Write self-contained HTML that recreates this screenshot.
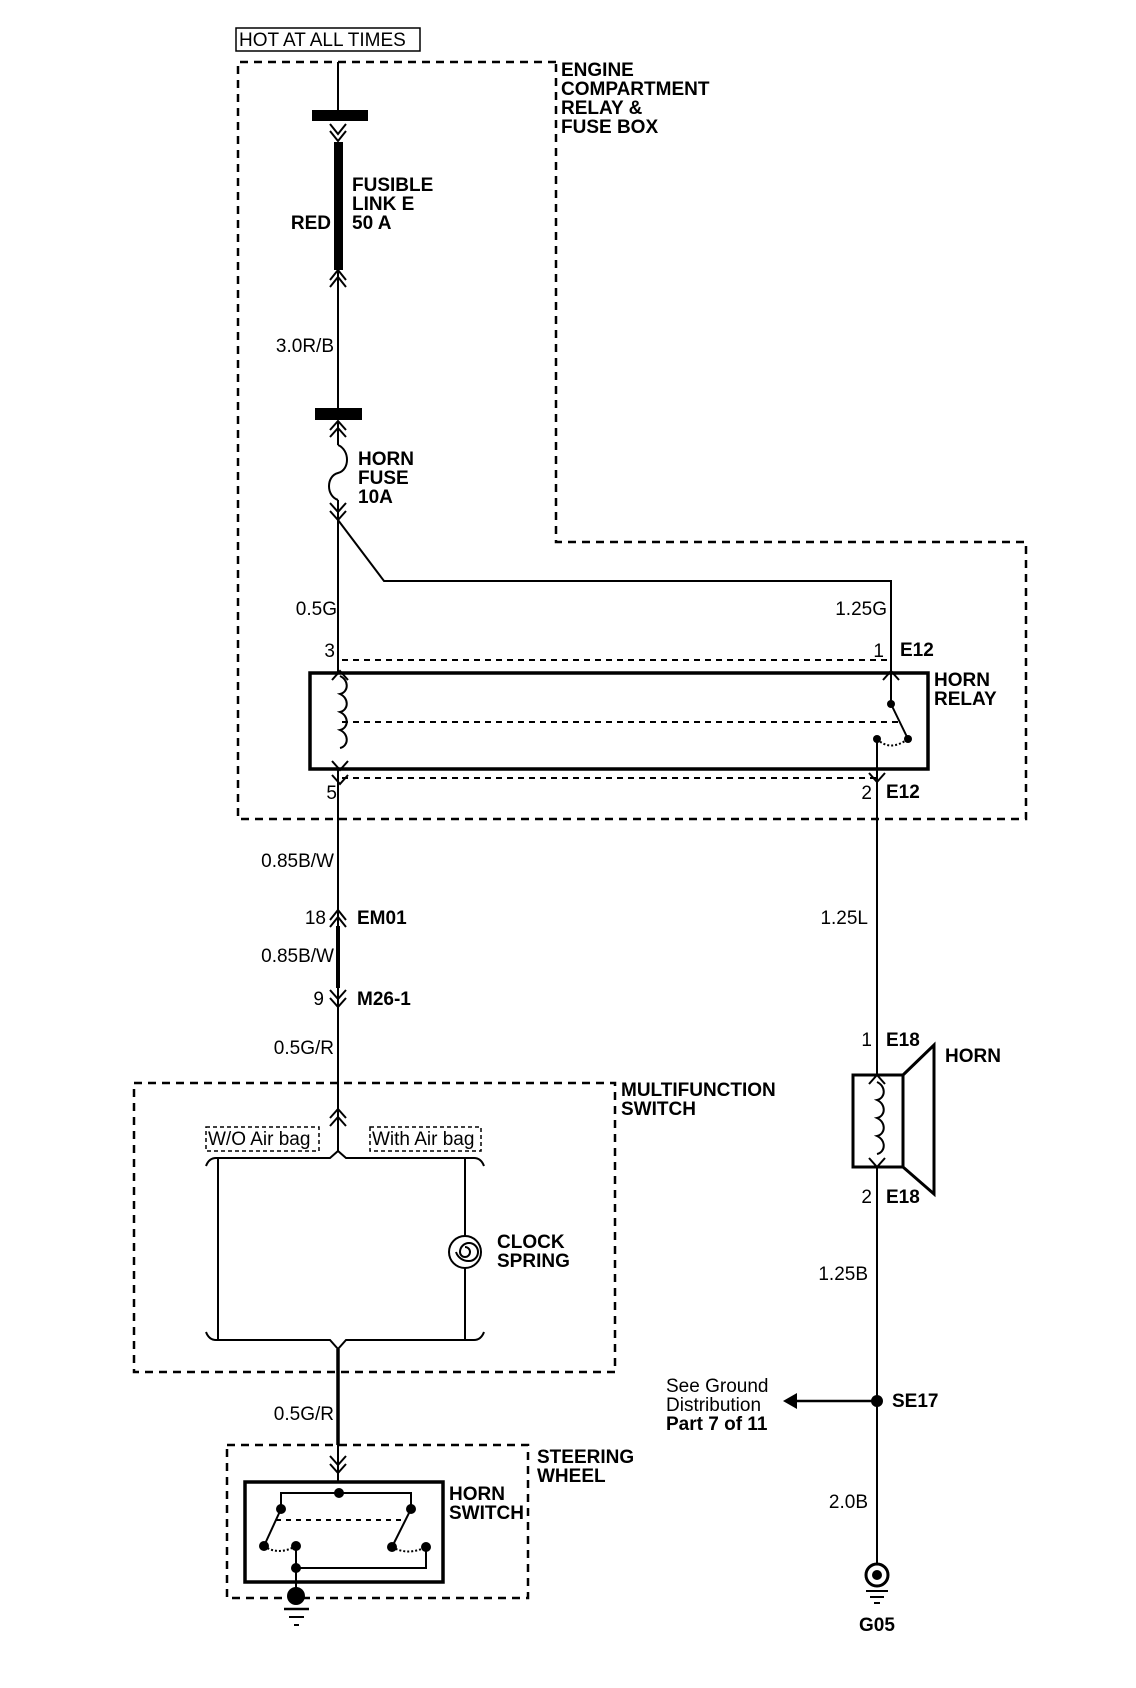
<!DOCTYPE html>
<html><head><meta charset="utf-8"><style>
html,body{margin:0;padding:0;background:#fff;}
svg{display:block;}
text{font-family:"Liberation Sans",sans-serif;font-size:19px;fill:#000;}
.b{font-weight:bold;}
</style></head><body>
<svg width="1136" height="1688" viewBox="0 0 1136 1688" xmlns="http://www.w3.org/2000/svg">
<g fill="none" stroke="#000" stroke-width="2">
<rect x="236" y="28" width="184" height="23" stroke-width="1.5"/>
<polyline points="556,62 238,62 238,819 1026,819 1026,542 556,542 556,62" stroke-dasharray="8,6" stroke-width="2.5"/>
<line x1="338" y1="62" x2="338" y2="110"/>
<line x1="338" y1="270" x2="338" y2="408"/>
<line x1="338" y1="421" x2="338" y2="445"/>
<line x1="338" y1="500" x2="338" y2="674"/>
<path d="M338,445 C350,450 350,470 338,473 C326,476 326,496 338,500"/>
<polyline points="330,124 338,134 346,124"/><polyline points="330,131 338,141 346,131"/>
<polyline points="330,280 338,270 346,280"/><polyline points="330,287 338,277 346,287"/>
<polyline points="330,430 338,421 346,430"/><polyline points="330,437 338,428 346,437"/>
<polyline points="330,503 338,512 346,503"/><polyline points="330,511 338,520 346,511"/>
<polyline points="338,520 384,581 891,581 891,674"/>
<line x1="342" y1="660" x2="891" y2="660" stroke-dasharray="6,5"/>
<line x1="342" y1="722" x2="900" y2="722" stroke-dasharray="6,5"/>
<line x1="342" y1="778" x2="877" y2="778" stroke-dasharray="6,5"/>
<path d="M340,676 c9,4 9,16 0,18 c9,4 9,16 0,18 c9,4 9,16 0,18 c9,4 9,16 0,18"/>
<polyline points="332,680 340,671 348,680"/>
<polyline points="332,761 340,770 348,761"/>
<polyline points="332,775 340,784 348,775"/>
<polyline points="883,680 891,671 899,680"/>
<polyline points="869,773 877,782 885,773"/>
<line x1="891" y1="674" x2="891" y2="704"/>
<line x1="891" y1="704" x2="908" y2="739"/>
<path d="M877,739 Q890,752 908,739" stroke-dasharray="2,2"/>
<line x1="877" y1="739" x2="877" y2="1075"/>
<line x1="338" y1="768" x2="338" y2="926"/>
<line x1="338" y1="926" x2="338" y2="988" stroke-width="4"/>
<line x1="338" y1="988" x2="338" y2="1151"/>
<polyline points="330,920 338,910 346,920"/><polyline points="330,927 338,917 346,927"/>
<polyline points="330,990 338,999 346,990"/><polyline points="330,998 338,1007 346,998"/>
<rect x="134" y="1083" width="481" height="289" stroke-dasharray="8,6" stroke-width="2.5"/>
<polyline points="330,1118 338,1109 346,1118"/><polyline points="330,1126 338,1117 346,1126"/>
<rect x="206" y="1127" width="113" height="24" stroke-dasharray="4,3" stroke-width="1.5"/>
<rect x="370" y="1127" width="111" height="24" stroke-dasharray="4,3" stroke-width="1.5"/>
<path d="M206,1166 Q209,1158 216,1158 L330,1158 L338,1151 L346,1158 L474,1158 Q481,1158 484,1166"/>
<line x1="218" y1="1158" x2="218" y2="1340"/>
<line x1="465" y1="1158" x2="465" y2="1236"/>
<line x1="465" y1="1268" x2="465" y2="1340"/>
<circle cx="465" cy="1252" r="16"/>
<path d="M465,1252 m0,-5 a5,5 0 1,1 -5,5 a9,9 0 1,1 9,9 a13,13 0 0,1 -13,-9"/>
<path d="M206,1332 Q209,1340 216,1340 L330,1340 L338,1349 L346,1340 L474,1340 Q481,1340 484,1332"/>
<line x1="338" y1="1349" x2="338" y2="1445" stroke-width="3.5"/>
<line x1="338" y1="1445" x2="338" y2="1482"/>
<rect x="227" y="1445" width="301" height="153" stroke-dasharray="8,6" stroke-width="2.5"/>
<polyline points="330,1456 338,1465 346,1456"/><polyline points="330,1464 338,1473 346,1464"/>
<rect x="245" y="1482" width="198" height="100" stroke-width="3.5"/>
<polyline points="281,1509 281,1493 411,1493 411,1509"/>
<line x1="281" y1="1509" x2="264" y2="1546"/>
<line x1="411" y1="1509" x2="392" y2="1547"/>
<line x1="276" y1="1520" x2="402" y2="1520" stroke-dasharray="5,5"/>
<path d="M264,1546 Q278,1556 296,1546" stroke-dasharray="2,2"/>
<path d="M392,1547 Q408,1556 426,1547" stroke-dasharray="2,2"/>
<polyline points="296,1546 296,1596"/>
<polyline points="296,1568 426,1568 426,1547"/>
<line x1="284" y1="1609" x2="309" y2="1609" stroke-width="2.5"/>
<line x1="289" y1="1617" x2="304" y2="1617"/>
<line x1="294" y1="1625" x2="299" y2="1625"/>
<polyline points="869,1084 877,1075 885,1084"/>
<polyline points="869,1158 877,1167 885,1158"/>
<rect x="853" y="1075" width="50" height="92" stroke-width="3"/>
<path d="M877,1082 c9,4 9,16 0,18 c9,4 9,16 0,18 c9,4 9,16 0,18 c9,4 9,16 0,18"/>
<polyline points="903,1075 934,1045 934,1194 903,1167" stroke-width="3"/>
<line x1="877" y1="1167" x2="877" y2="1563"/>
<line x1="790" y1="1401" x2="877" y2="1401" stroke-width="2.5"/>
<circle cx="877" cy="1575" r="11" stroke-width="3"/>
<line x1="866" y1="1591" x2="888" y2="1591"/>
<line x1="870" y1="1597" x2="884" y2="1597"/>
<line x1="874" y1="1603" x2="880" y2="1603"/>
</g>
<g fill="#000">
<rect x="312" y="110" width="56" height="11"/>
<rect x="334" y="142" width="9" height="128"/>
<rect x="315" y="408" width="47" height="12"/>
<rect x="310" y="673" width="618" height="96" fill="none" stroke="#000" stroke-width="3.5"/>
<circle cx="891" cy="704" r="4"/><circle cx="908" cy="739" r="4"/><circle cx="877" cy="739" r="4"/>
<circle cx="339" cy="1493" r="5"/><circle cx="281" cy="1509" r="5"/><circle cx="411" cy="1509" r="5"/>
<circle cx="264" cy="1546" r="5"/><circle cx="296" cy="1546" r="5"/><circle cx="392" cy="1547" r="5"/><circle cx="426" cy="1547" r="5"/>
<circle cx="296" cy="1568" r="5"/><circle cx="296" cy="1596" r="9"/>
<circle cx="877" cy="1575" r="5"/>
<circle cx="877" cy="1401" r="6"/>
<polygon points="783,1401 797,1393 797,1409"/>
</g>
<text x="239" y="46" font-size="18">HOT AT ALL TIMES</text>
<g class="b">
<text x="561" y="76" class="b">ENGINE</text>
<text x="561" y="95" class="b">COMPARTMENT</text>
<text x="561" y="114" class="b">RELAY &amp;</text>
<text x="561" y="133" class="b">FUSE BOX</text>
<text x="352" y="191" class="b">FUSIBLE</text>
<text x="352" y="210" class="b">LINK E</text>
<text x="352" y="229" class="b">50 A</text>
<text x="331" y="229" class="b" text-anchor="end">RED</text>
<text x="358" y="465" class="b">HORN</text>
<text x="358" y="484" class="b">FUSE</text>
<text x="358" y="503" class="b">10A</text>
<text x="900" y="656" class="b">E12</text>
<text x="934" y="686" class="b">HORN</text>
<text x="934" y="705" class="b">RELAY</text>
<text x="886" y="798" class="b">E12</text>
<text x="357" y="924" class="b">EM01</text>
<text x="357" y="1005" class="b">M26-1</text>
<text x="621" y="1096" class="b">MULTIFUNCTION</text>
<text x="621" y="1115" class="b">SWITCH</text>
<text x="497" y="1248" class="b">CLOCK</text>
<text x="497" y="1267" class="b">SPRING</text>
<text x="537" y="1463" class="b">STEERING</text>
<text x="537" y="1482" class="b">WHEEL</text>
<text x="449" y="1500" class="b">HORN</text>
<text x="449" y="1519" class="b">SWITCH</text>
<text x="886" y="1046" class="b">E18</text>
<text x="945" y="1062" class="b">HORN</text>
<text x="886" y="1203" class="b">E18</text>
<text x="892" y="1407" class="b">SE17</text>
<text x="877" y="1631" class="b" text-anchor="middle">G05</text>
<text x="666" y="1430" class="b">Part 7 of 11</text>
</g>
<g text-anchor="end">
<text x="334" y="352">3.0R/B</text>
<text x="337" y="615">0.5G</text>
<text x="887" y="615">1.25G</text>
<text x="335" y="657">3</text>
<text x="884" y="657">1</text>
<text x="337" y="799">5</text>
<text x="872" y="799">2</text>
<text x="334" y="867">0.85B/W</text>
<text x="326" y="924">18</text>
<text x="334" y="962">0.85B/W</text>
<text x="324" y="1005">9</text>
<text x="334" y="1054">0.5G/R</text>
<text x="334" y="1420">0.5G/R</text>
<text x="868" y="924">1.25L</text>
<text x="872" y="1046">1</text>
<text x="872" y="1203">2</text>
<text x="868" y="1280">1.25B</text>
<text x="868" y="1508">2.0B</text>
</g>
<text x="666" y="1392">See Ground</text>
<text x="666" y="1411">Distribution</text>
<text x="208" y="1145" font-size="17">W/O Air bag</text>
<text x="372" y="1145" font-size="17">With Air bag</text>
</svg>
</body></html>
